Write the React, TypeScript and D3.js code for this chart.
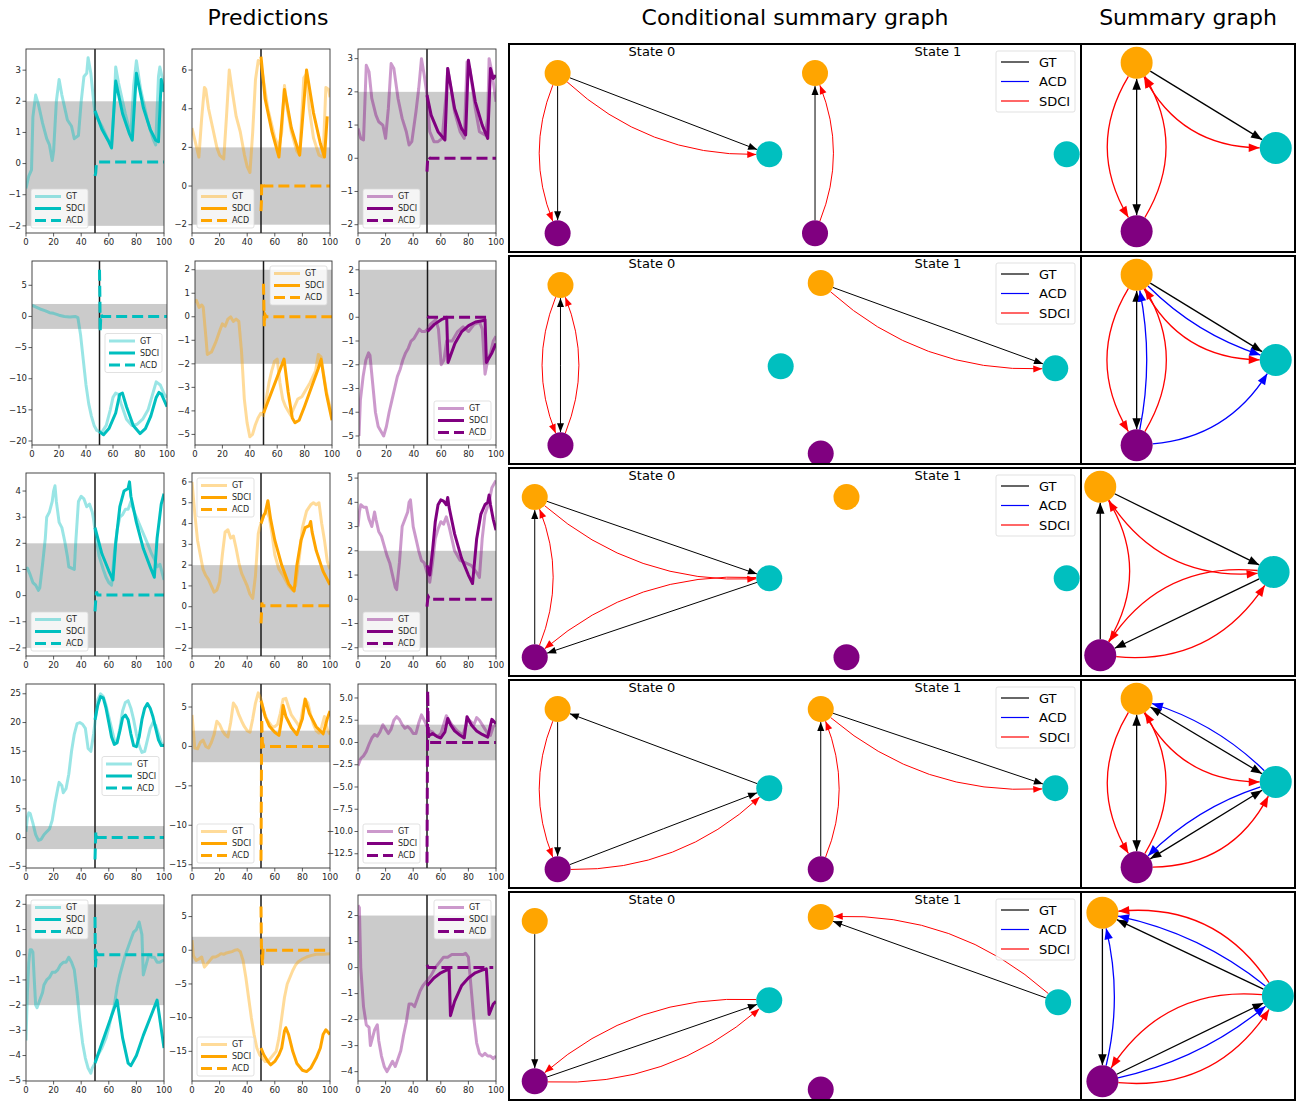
import React from 'react';
import * as d3 from 'd3';

type Pt = [number, number];
type Edge = [string, string, string, number, boolean?];

const CYAN = '#00bfbf';
const ORANGE = '#ffa500';
const PURPLE = '#800080';
const FONT = '"DejaVu Sans", Verdana, sans-serif';

// ---------- predictions: row 1 ----------
const gt11: Pt[] = [[0,-0.8],[2,-0.4],[4,-0.2],[5,1.5],[7,2.2],[9,1.9],[12,1.3],[15,0.8],[17,0.6],[19,0.1],[20,0.4],[22,2.0],[24,2.7],[26,2.2],[28,1.8],[30,1.4],[33,1.2],[35,0.8],[38,0.9],[40,2.0],[42,2.8],[44,2.9],[45,3.4],[47,2.9],[49,2.0],[50,1.6],[55,1.2],[59,0.8],[62,0.6],[64,2.0],[65,3.1],[67,2.6],[72,1.6],[76,0.9],[78,2.5],[80,3.3],[83,2.4],[88,1.4],[92,0.8],[94,0.6],[96,2.8],[97,3.1],[100,2.5]];
const sdci11: Pt[] = [[50,1.7],[55,1.1],[60,0.7],[62,0.5],[65,2.65],[70,1.6],[75,0.95],[77,0.75],[80,2.9],[85,1.8],[90,1.1],[94,0.75],[96,0.7],[98,2.7],[100,2.3]];
const acd11: Pt[] = [[50,-0.4],[50.5,-0.3],[51,0],[52,0.05],[100,0.05]];

const gt12: Pt[] = [[0,3],[2,2.4],[5,1.5],[7,3.5],[9,5.1],[10,5],[12,4],[15,3],[18,2],[20,1.6],[23,1.4],[25,3.6],[27,6],[29,5],[32,3.6],[35,2.8],[38,1.6],[40,1.0],[42,0.7],[44,2.8],[46,5.5],[48,6.5],[50,6.3],[55,4],[60,2.5],[63,2],[65,2.8],[67,5.2],[69,4],[72,2.8],[76,1.8],[78,1.6],[81,5.6],[83,5.8],[85,4],[88,2.5],[92,1.6],[95,1.5],[97,5.1],[99,5],[100,4.6]];
const sdci12: Pt[] = [[50,6.7],[53,4.5],[58,2.8],[63,1.5],[67,5],[72,3],[78,1.6],[83,6],[88,3.8],[93,2.2],[96,1.5],[98,3.6]];
const acd12: Pt[] = [[50,-1.3],[50.3,-0.8],[50.5,0.2],[52,0],[100,0]];

const gt13: Pt[] = [[0,0.9],[2,0.6],[4,0.55],[6,2.8],[8,2.6],[10,1.8],[13,1.3],[15,1.1],[18,1.0],[20,0.6],[22,1.5],[24,2.85],[26,2.7],[29,1.8],[32,1.2],[35,0.8],[37,0.4],[39,0.5],[42,1.4],[44,2.1],[46,3.0],[48,2.5],[50,1.9],[52,0.8],[55,0.5],[58,0.5],[61,0.6],[64,2.0],[65,2.7],[67,2.2],[70,1.4],[74,0.8],[77,0.6],[79,2.9],[81,2.7],[85,1.5],[88,0.8],[92,0.7],[94,1.2],[95,3.0],[97,2.6],[100,1.7]];
const sdci13: Pt[] = [[50,1.9],[53,1.3],[58,0.8],[63,0.55],[65,2.7],[70,1.5],[75,0.9],[78,0.7],[80,2.95],[85,1.7],[90,1.0],[94,0.6],[96,2.7],[98,2.4],[100,2.5]];
const acd13: Pt[] = [[50,-0.4],[50.5,0],[51,0.05],[52,0],[100,0]];

// ---------- row 2 ----------
const gt21: Pt[] = [[0,1.8],[3,1.5],[6,1.2],[10,0.9],[13,0.6],[16,0.5],[20,0.2],[24,0],[28,-0.1],[32,0],[34,-0.2],[36,-3],[38,-7],[40,-11],[42,-14],[44,-16],[46,-17.5],[48,-18.3],[50,-18.5],[52,-18.5],[55,-17.5],[58,-15],[60,-13],[62,-12.3],[64,-12.5],[66,-14],[70,-16.5],[74,-17.5],[78,-17.3],[82,-16.5],[86,-15],[90,-12],[92,-10.5],[95,-11],[98,-12.5],[100,-13]];
const sdci21: Pt[] = [[50,-18.5],[53,-19],[57,-18],[62,-15.5],[65,-12.5],[67,-12.3],[70,-14.5],[75,-17.5],[80,-18.8],[84,-18],[88,-16],[92,-13],[94,-12.2],[96,-12.5],[100,-14.5]];
const acd21: Pt[] = [[50,7.5],[50.3,3],[50.5,-2.5],[51,0.3],[52,0],[100,0]];

const gt22: Pt[] = [[0,0.6],[1,0.7],[3,0.4],[5,0.5],[6,0.4],[8,-0.9],[9,-1.6],[12,-1.5],[15,-1.1],[18,-0.6],[20,-0.3],[22,-0.4],[24,-0.1],[26,0],[28,-0.2],[30,-0.1],[32,-0.2],[34,-1.5],[36,-3.5],[38,-4.5],[40,-5.1],[42,-5.0],[44,-4.6],[46,-4.3],[48,-4.1],[50,-4.2],[52,-3.5],[54,-2.8],[56,-2.3],[58,-1.9],[60,-1.8],[62,-2.8],[64,-3.5],[66,-3.8],[68,-4.0],[70,-4.2],[72,-3.9],[75,-3.5],[78,-3.4],[80,-3.2],[84,-2.8],[88,-2.3],[90,-1.6],[92,-1.7],[94,-2.5],[96,-3.2],[100,-4.2]];
const sdci22: Pt[] = [[50,-4.1],[65,-1.8],[68,-3.2],[71,-4.3],[73,-4.5],[76,-4.4],[80,-3.8],[85,-3],[90,-2.2],[92,-1.8],[96,-3.3],[100,-4.4]];
const acd22: Pt[] = [[50,1.4],[50.3,0.5],[50.6,-0.4],[51,0.1],[52,0],[100,0]];

const gt23: Pt[] = [[0,-5],[1,-3.5],[3,-2.5],[5,-1.8],[7,-1.5],[8,-1.6],[10,-2.8],[12,-4],[14,-4.6],[16,-4.8],[18,-5.0],[20,-4.6],[22,-4.0],[24,-3.5],[26,-3],[28,-2.5],[30,-2.2],[32,-1.8],[34,-1.5],[36,-1.3],[38,-1.0],[40,-0.9],[42,-0.7],[44,-0.5],[46,-0.6],[48,-0.6],[50,-0.5],[52,-0.3],[54,-0.2],[56,-0.1],[58,-0.5],[60,-2.0],[62,-1.8],[64,-1.0],[66,-1.0],[68,-1.0],[72,-0.6],[76,-0.4],[80,-0.6],[84,-0.3],[88,-0.2],[90,-0.5],[92,-2.4],[94,-1.8],[96,-1.5],[98,-1.0],[100,-0.8]];
const sdci23: Pt[] = [[50,-0.6],[55,-0.3],[60,-0.1],[64,0],[65,-1.9],[70,-1.1],[75,-0.6],[80,-0.35],[85,-0.2],[90,-0.15],[92,-0.1],[93,-1.9],[97,-1.5],[100,-1.1]];
const acd23: Pt[] = [[50,0.05],[51,0],[95,0]];

// ---------- row 3 ----------
const gt31: Pt[] = [[0,1],[1,1.05],[3,0.8],[5,0.5],[7,0.4],[9,0.2],[10,0.3],[12,1.2],[14,2.2],[15,3],[17,3.2],[19,3.6],[20,4.0],[21,4.2],[22,3.6],[24,2.8],[26,2.6],[28,2.1],[30,1.5],[31,1.1],[33,1.05],[35,1.0],[36,2.0],[38,3.6],[40,3.8],[42,3.7],[44,3.4],[46,3.5],[48,3.2],[49,2.9],[50,2.5],[53,1.5],[56,1.0],[58,0.7],[60,0.5],[62,0.4],[64,1.6],[66,2.5],[68,3.0],[70,3.1],[72,3.3],[74,3.3],[76,3.6],[77,3.4],[80,3.0],[84,2.5],[88,2.0],[91,1.6],[93,1.4],[95,1.1],[97,1.2],[99,0.8],[100,0.6]];
const sdci31: Pt[] = [[50,2.6],[55,1.6],[60,0.95],[63,0.6],[65,2.0],[68,3.4],[71,4.0],[74,4.1],[75,4.35],[76,3.8],[80,2.8],[85,1.8],[90,1.1],[93,0.7],[95,2.2],[98,3.5],[100,3.9]];
const acd31: Pt[] = [[50,-0.6],[50.5,-0.2],[51,0.15],[52,0.02],[100,0.02]];

const gt32: Pt[] = [[0,6],[2,4.5],[4,3.2],[6,2.5],[8,1.8],[10,1.5],[12,1.3],[14,1.0],[16,0.7],[18,0.8],[20,1.2],[22,2.5],[24,3.6],[26,3.7],[28,3.3],[30,3.4],[32,2.8],[34,2.1],[36,1.6],[38,1.3],[40,1.0],[42,0.6],[44,0.4],[46,1.5],[48,3.5],[49,3.8],[50,4],[52,4.4],[54,4.6],[56,4.3],[58,3.5],[60,2.5],[63,1.8],[66,1.5],[70,1.0],[73,0.8],[75,1.0],[78,2.5],[80,3.8],[83,4.6],[86,4.9],[88,5.0],[90,4.9],[92,5.0],[94,4.0],[96,3.2],[98,2.2],[100,1.8]];
const sdci32: Pt[] = [[50,4.0],[52,4.4],[53,4.5],[55,5.1],[57,4.2],[60,3.2],[65,2.0],[70,1.1],[74,0.75],[76,2.0],[79,3.2],[82,3.8],[85,3.9],[86,4.1],[87,3.6],[90,2.7],[95,1.7],[100,1.05]];
const acd32: Pt[] = [[50,-0.8],[50.3,-0.4],[50.6,0.2],[51,0.05],[100,0.05]];

const gt33: Pt[] = [[0,3.0],[1,3.6],[2,3.9],[4,3.8],[6,3.8],[8,3.3],[10,3.0],[12,3.6],[13,3.3],[15,2.8],[17,2.6],[19,2.2],[21,1.8],[23,1.5],[25,1.0],[27,0.5],[28,0.4],[30,1.5],[32,3.0],[34,3.3],[36,3.6],[37,4.0],[38,4.1],[40,3.0],[42,2.5],[44,2.0],[46,1.6],[48,1.5],[50,1.1],[52,0.7],[54,1.5],[56,2.5],[58,2.9],[60,3.2],[62,3.1],[64,3.4],[66,3.0],[68,2.5],[70,2.0],[74,1.6],[78,1.5],[82,1.4],[86,1.1],[88,0.9],[90,2.5],[92,3.5],[95,4.0],[97,4.6],[100,4.9]];
const sdci33: Pt[] = [[50,1.4],[52,1.0],[54,2.0],[56,3.2],[58,3.9],[60,4.1],[62,4.05],[64,3.9],[65,4.2],[66,3.8],[70,2.7],[75,1.7],[80,1.0],[83,0.65],[86,2.5],[89,3.5],[92,3.9],[94,4.0],[95,4.3],[96,3.9],[98,3.3],[100,2.85]];
const acd33: Pt[] = [[50,-0.3],[50.5,0],[51,0.1],[52,0],[100,0]];

// ---------- row 4 ----------
const gt41: Pt[] = [[0,1],[1,3.5],[2,4.3],[3,4.2],[5,2.5],[7,0.5],[9,-0.5],[11,-0.3],[13,0.5],[15,1],[17,1.5],[19,3],[21,6],[23,8.5],[24,9.6],[26,9],[27,7.8],[29,8.5],[31,11],[33,15],[35,18],[37,19.8],[39,20],[41,19.7],[43,19],[45,15.5],[47,15],[49,18],[50,20],[52,24],[54,25],[56,24.5],[58,23],[60,21],[62,19],[64,17],[66,16.5],[68,19],[70,22],[72,23.5],[74,23.8],[76,22.5],[78,20.5],[80,18],[82,16],[84,14.8],[86,15],[88,17],[90,19],[92,20],[94,19.5],[96,18],[98,16.5],[100,16]];
const sdci41: Pt[] = [[50,20.5],[52,23],[54,24.5],[56,24.3],[58,22.5],[60,20],[62,17.5],[64,16.2],[66,16.5],[68,18.5],[70,20.8],[72,21.3],[74,20.5],[76,18],[78,16],[80,15.8],[82,17.5],[84,20.5],[86,22.5],[88,23.3],[90,22.5],[92,21],[94,19],[96,17],[98,16],[100,16]];
const acd41: Pt[] = [[50,-3.8],[50.3,-1],[50.6,1],[51,0.2],[52,0],[100,0]];

const gt42: Pt[] = [[0,4],[1,2],[2,-0.2],[4,-0.3],[6,0.5],[8,0.8],[10,0],[12,-0.2],[14,0.5],[16,1.5],[18,3.2],[20,2.8],[22,2],[24,1.5],[26,1.2],[28,3],[30,5.5],[32,5],[34,4],[36,3.2],[38,2.5],[40,2],[42,1.8],[44,3.5],[46,5.5],[48,6.8],[50,6],[52,4.5],[54,3.5],[56,3],[58,2.5],[60,2.5],[62,2.8],[64,4.2],[66,6.0],[68,6.1],[70,5],[72,4],[74,3.5],[76,3],[78,2.4],[80,4.5],[82,6],[84,5.5],[86,4],[88,2.8],[90,2],[92,1.7],[94,2.5],[96,3.8],[98,2.2],[100,1.5]];
const sdci42: Pt[] = [[50,5.8],[53,3.8],[56,2.6],[60,1.8],[63,1.4],[65,3.5],[66,5.2],[68,3.8],[72,2.4],[76,1.5],[80,3.5],[82,6],[85,4.2],[90,2.5],[95,1.6],[98,3.5],[100,4.5]];
const acd42: Pt[] = [[50,-14.5],[50.5,3.5],[51,0.5],[52,0],[100,0]];

const gt43: Pt[] = [[0,-2.6],[2,-1.8],[4,-1.5],[6,-1.0],[8,-0.2],[10,0.5],[12,0.9],[14,0.7],[16,1.2],[18,2],[20,1.5],[22,1.0],[24,1.5],[26,2.5],[28,2.9],[30,2.6],[32,2.0],[34,1.6],[36,1.8],[38,1.5],[40,1.0],[42,1.0],[44,2.2],[46,3.1],[48,2.5],[50,1.8],[52,1.3],[54,1.2],[56,0.8],[58,0.7],[60,1.0],[62,2],[64,3.0],[66,2.5],[68,2.0],[72,1.3],[76,0.8],[78,1.8],[80,2.6],[84,2.0],[86,2.8],[88,2.5],[92,1.5],[94,1.0],[96,0.8],[98,1.8],[100,2.0]];
const sdci43: Pt[] = [[50,1.2],[52,0.8],[54,1.0],[57,0.7],[60,0.5],[63,1.2],[65,2.7],[67,2.0],[70,1.3],[74,0.8],[77,0.5],[79,2.9],[82,2.0],[86,1.3],[90,0.9],[94,0.6],[97,2.6],[100,2.1]];
const acd43: Pt[] = [[50,-13.5],[50.5,5.8],[51,0.5],[52,0],[100,0]];

// ---------- row 5 ----------
const gt51: Pt[] = [[0,-3.4],[1,-1.5],[2,-0.3],[3,0.2],[4,0.2],[5,0.1],[6,-1],[7,-2],[8,-2.1],[10,-1.8],[12,-1.5],[13,-1.2],[15,-1.0],[17,-0.9],[19,-0.7],[21,-0.7],[23,-0.6],[25,-0.4],[27,-0.3],[29,-0.3],[31,-0.1],[33,-0.3],[35,-0.6],[37,-1.5],[39,-2.6],[41,-3.5],[43,-4.1],[45,-4.5],[47,-4.7],[48,-4.5],[50,-4.3],[52,-4.0],[55,-3.7],[58,-3.3],[60,-2.9],[62,-2.4],[64,-2.0],[66,-1.3],[68,-0.8],[70,-0.4],[72,0],[74,0.3],[76,0.6],[78,0.9],[80,1.0],[82,1.3],[84,0.8],[85,-0.8],[87,-0.4],[89,0],[91,-0.1],[93,-0.1],[95,-0.3],[97,-0.3],[100,-0.2]];
const sdci51: Pt[] = [[50,-4.3],[66,-1.8],[70,-3.3],[74,-4.3],[76,-4.4],[80,-4],[85,-3.2],[90,-2.5],[95,-1.8],[100,-3.7]];
const acd51: Pt[] = [[50,1.5],[50.3,-0.5],[51,0.1],[52,0],[100,0]];

const gt52: Pt[] = [[0,1.5],[1,-0.8],[3,-1.5],[5,-1.3],[7,-1.0],[9,-2.5],[11,-2.0],[13,-1.5],[15,-1.0],[17,-1.0],[19,-0.8],[21,-0.5],[23,-0.6],[25,-0.4],[27,-0.3],[29,-0.2],[31,0],[33,0.1],[35,-0.2],[37,-1.5],[39,-4],[41,-7],[43,-10],[45,-12.5],[47,-14.5],[49,-15.5],[51,-16],[53,-16.5],[55,-16.5],[57,-16],[59,-15.5],[61,-15],[63,-13],[65,-10],[67,-7],[69,-5],[71,-4],[73,-3],[75,-2.2],[77,-1.7],[80,-1.3],[83,-1.0],[86,-0.8],[90,-0.6],[95,-0.6],[100,-0.5]];
const sdci52: Pt[] = [[50,-14.5],[52,-15.5],[55,-16.5],[57,-17],[60,-16.5],[63,-15.5],[65,-14.5],[67,-12.0],[68,-11.5],[70,-12.5],[73,-15],[76,-16.8],[80,-17.8],[83,-18],[86,-17.5],[90,-16],[93,-14.5],[95,-12.5],[97,-11.8],[100,-12.5]];
const acd52: Pt[] = [[50,6.5],[50.3,0.5],[51,-2.2],[51.5,0.3],[52,0],[100,0]];

const gt53: Pt[] = [[0,2.4],[1,2.3],[2,0],[4,-1.5],[6,-2.2],[8,-2.3],[9,-3.0],[10,-2.8],[12,-2.4],[14,-2.2],[15,-2.8],[17,-3.4],[19,-3.8],[21,-4.0],[23,-3.8],[25,-3.6],[27,-3.8],[29,-3.5],[31,-3.2],[33,-2.6],[35,-2.1],[37,-1.4],[39,-1.4],[41,-1.5],[43,-1.2],[45,-0.9],[47,-0.7],[50,-0.5],[53,-0.3],[56,0],[59,0.2],[62,0.4],[65,0.4],[68,0.5],[72,0.5],[76,0.5],[78,0.55],[80,0.4],[82,-0.8],[84,-2],[86,-2.9],[88,-3.3],[90,-3.4],[92,-3.3],[94,-3.4],[96,-3.4],[98,-3.5],[100,-3.4]];
const sdci53: Pt[] = [[50,-0.7],[55,-0.4],[60,-0.2],[66,-0.05],[67,-1.85],[70,-1.3],[75,-0.7],[80,-0.4],[85,-0.2],[90,-0.1],[93,-0.05],[95,-1.8],[98,-1.4],[100,-1.3]];
const acd53: Pt[] = [[50,0.1],[51,0],[98,0]];

// y limits and ticks per subplot
const yLims: Pt[][] = [
  [[-2.23, 3.68], [-2.43, 7.09], [-2.25, 3.29]],
  [[-20.64, 8.9], [-5.45, 2.37], [-5.38, 2.37]],
  [[-2.31, 4.69], [-2.37, 6.43], [-2.34, 5.21]],
  [[-5.29, 26.7], [-15.42, 7.92], [-14.1, 6.57]],
  [[-5.01, 2.37], [-19.4, 8.2], [-4.36, 2.79]],
];
const yTicks: number[][][] = [
  [[-2, -1, 0, 1, 2, 3], [-2, 0, 2, 4, 6], [-2, -1, 0, 1, 2, 3]],
  [[-20, -15, -10, -5, 0, 5], [-5, -4, -3, -2, -1, 0, 1, 2], [-5, -4, -3, -2, -1, 0, 1, 2]],
  [[-2, -1, 0, 1, 2, 3, 4], [-2, -1, 0, 1, 2, 3, 4, 5, 6], [-2, -1, 0, 1, 2, 3, 4, 5]],
  [[-5, 0, 5, 10, 15, 20, 25], [-15, -10, -5, 0, 5], [-12.5, -10, -7.5, -5, -2.5, 0, 2.5, 5]],
  [[-5, -4, -3, -2, -1, 0, 1, 2], [-15, -10, -5, 0, 5], [-4, -3, -2, -1, 0, 1, 2]],
];
const xTicks = [0, 20, 40, 60, 80, 100];
const legendSpots = [
  ['ll', 'll', 'll'],
  ['cr', 'ur', 'lr'],
  ['ll', 'ul', 'll'],
  ['cr', 'll', 'll'],
  ['ul', 'll', 'ur'],
];
const series: Pt[][][][] = [
  [[gt11, sdci11, acd11], [gt12, sdci12, acd12], [gt13, sdci13, acd13]],
  [[gt21, sdci21, acd21], [gt22, sdci22, acd22], [gt23, sdci23, acd23]],
  [[gt31, sdci31, acd31], [gt32, sdci32, acd32], [gt33, sdci33, acd33]],
  [[gt41, sdci41, acd41], [gt42, sdci42, acd42], [gt43, sdci43, acd43]],
  [[gt51, sdci51, acd51], [gt52, sdci52, acd52], [gt53, sdci53, acd53]],
];
const colColors = [CYAN, ORANGE, PURPLE];
const lineLabels = ['GT', 'SDCI', 'ACD'];

// ---------- graphs: node layouts (0-100 within each subplot) ----------
type Layout = Record<string, Pt>;
const layouts: { s0: Layout; s1: Layout; sum: Layout }[] = [
  { s0: { o: [17, 14], c: [91, 53], p: [17, 91] }, s1: { o: [7, 14], c: [95, 53], p: [7, 91] }, sum: { o: [26, 9], c: [91, 50], p: [26, 90] } },
  { s0: { o: [18, 14], c: [95, 53], p: [18, 91] }, s1: { o: [9, 13], c: [91, 54], p: [9, 95] }, sum: { o: [26, 9], c: [91, 50], p: [26, 91] } },
  { s0: { o: [9, 14], c: [91, 53], p: [9, 91] }, s1: { o: [18, 14], c: [95, 53], p: [18, 91] }, sum: { o: [9, 9], c: [90, 50], p: [9, 90] } },
  { s0: { o: [17, 14], c: [91, 52], p: [17, 91] }, s1: { o: [9, 14], c: [91, 52], p: [9, 91] }, sum: { o: [26, 9], c: [91, 49], p: [26, 90] } },
  { s0: { o: [9, 14], c: [91, 52], p: [9, 91] }, s1: { o: [9, 12], c: [92, 53], p: [9, 95] }, sum: { o: [10, 10], c: [92, 50], p: [10, 91] } },
];
// [from, to, colour, curvature, arrow at both ends]
const edgesS0: Edge[][] = [
  [['o', 'p', 'k', 0], ['o', 'c', 'k', 0], ['o', 'p', 'r', 0.2], ['o', 'c', 'r', 0.2]],
  [['o', 'p', 'k', 0, true], ['o', 'p', 'r', 0.2], ['p', 'o', 'r', 0.2]],
  [['o', 'c', 'k', 0], ['c', 'p', 'k', 0], ['p', 'o', 'k', 0], ['o', 'c', 'r', 0.2], ['c', 'p', 'r', 0.2], ['p', 'o', 'r', 0.2]],
  [['c', 'o', 'k', 0], ['p', 'c', 'k', 0], ['o', 'p', 'k', 0], ['o', 'p', 'r', 0.2], ['p', 'c', 'r', 0.2]],
  [['o', 'p', 'k', 0], ['p', 'c', 'k', 0], ['c', 'p', 'r', 0.2], ['p', 'c', 'r', 0.2]],
];
const edgesS1: Edge[][] = [
  [['p', 'o', 'k', 0], ['p', 'o', 'r', 0.2]],
  [['o', 'c', 'k', 0], ['o', 'c', 'r', 0.2]],
  [],
  [['o', 'c', 'k', 0], ['o', 'c', 'r', 0.2], ['p', 'o', 'k', 0], ['p', 'o', 'r', 0.2]],
  [['c', 'o', 'k', 0], ['c', 'o', 'r', 0.2]],
];
const edgesSum: Edge[][] = [
  [['o', 'c', 'k', 0], ['o', 'p', 'k', 0, true], ['o', 'p', 'r', 0.3], ['p', 'o', 'r', 0.3], ['o', 'c', 'r', 0.3, true]],
  [['o', 'p', 'k', 0, true], ['o', 'p', 'r', 0.3], ['p', 'o', 'r', 0.3], ['p', 'o', 'b', 0.1], ['o', 'c', 'k', 0], ['o', 'c', 'b', 0.12], ['o', 'c', 'r', 0.3], ['p', 'c', 'b', 0.25]],
  [['o', 'c', 'k', 0], ['c', 'p', 'k', 0], ['p', 'o', 'k', 0], ['o', 'c', 'r', 0.3], ['c', 'p', 'r', 0.3], ['p', 'c', 'r', 0.3], ['p', 'o', 'r', 0.3]],
  [['o', 'p', 'k', 0, true], ['o', 'p', 'r', 0.3], ['p', 'o', 'r', 0.3], ['o', 'c', 'k', 0, true], ['c', 'o', 'b', 0.12], ['o', 'c', 'r', 0.3], ['p', 'c', 'k', 0, true], ['c', 'p', 'b', 0.12], ['p', 'c', 'r', 0.3]],
  [['o', 'p', 'k', 0], ['p', 'o', 'b', 0.12], ['c', 'o', 'k', 0], ['c', 'o', 'b', 0.12], ['c', 'o', 'r', 0.3], ['p', 'c', 'k', 0], ['p', 'c', 'b', 0.12], ['p', 'c', 'r', 0.3], ['c', 'p', 'r', 0.3]],
];
const nodeColors: Record<string, string> = { o: ORANGE, c: CYAN, p: PURPLE };
const edgeColors: Record<string, string> = { k: '#000000', b: '#0000ff', r: '#ff0000' };
const graphLegend = [['GT', 'k'], ['ACD', 'b'], ['SDCI', 'r']];

// ---------- layout ----------
const rowBoxes: Pt[] = [[49, 233], [261, 445], [473, 656], [684, 868], [895, 1081]];
const colBoxes: Pt[] = [[26, 164], [192, 330], [358, 496]];
const colBoxesRow2: Pt[] = [[32, 167], [195, 332], [359, 496]];
const panelRows: Pt[] = [[44, 252], [256, 464], [468, 676], [680, 888], [892, 1100]];
const gx0 = 509, gmid = 795, gdiv = 1081, gx1 = 1295;

const LinePlot = ({ r, c }: { r: number; c: number }) => {
  const [x0, x1] = (r === 1 ? colBoxesRow2 : colBoxes)[c];
  const [y0, y1] = rowBoxes[r];
  const color = colColors[c];
  const [gt, sdci, acd] = series[r][c];
  const x = d3.scaleLinear().domain([0, 100]).range([x0, x1]);
  const y = d3.scaleLinear().domain(yLims[r][c]).range([y1, y0]);
  const ln = d3.line<Pt>().x(d => x(d[0])).y(d => y(d[1]));
  const fmt = r === 3 && c === 2 ? d3.format('.1f') : d3.format('d');
  const id = `clip-${r}-${c}`;
  const lw = 57, lh = 39;
  const spot = legendSpots[r][c];
  const lx = spot[1] === 'l' ? x0 + 5 : x1 - 5 - lw;
  const ly = spot[0] === 'u' ? y0 + 5 : spot[0] === 'l' ? y1 - 5 - lh : (y0 + y1) / 2 - lh / 2;
  return (
    <g>
      <clipPath id={id}>
        <rect x={x0} y={y0} width={x1 - x0} height={y1 - y0} />
      </clipPath>
      <g clipPath={`url(#${id})`}>
        <rect x={x(0)} y={y(2)} width={x(100) - x(0)} height={y(-2) - y(2)} fill="#cbcbcb" />
        <line x1={x(50)} x2={x(50)} y1={y0} y2={y1} stroke="#1a1a1a" strokeWidth={1.5} />
        <path d={ln(gt) ?? ''} fill="none" stroke={color} strokeOpacity={0.4} strokeWidth={3} strokeLinejoin="round" />
        <path d={ln(sdci) ?? ''} fill="none" stroke={color} strokeWidth={3} strokeLinejoin="round" />
        <path d={ln(acd) ?? ''} fill="none" stroke={color} strokeWidth={3} strokeDasharray="11,5" />
      </g>
      <rect x={x0} y={y0} width={x1 - x0} height={y1 - y0} fill="none" stroke="#333" strokeWidth={0.9} />
      {yTicks[r][c].map(t => (
        <g key={t}>
          <line x1={x0 - 3.5} x2={x0} y1={y(t)} y2={y(t)} stroke="#333" strokeWidth={0.8} />
          <text x={x0 - 5} y={y(t)} dy="0.32em" textAnchor="end" fontSize={8.5} fill="#262626" fontFamily={FONT}>
            {fmt(t)}
          </text>
        </g>
      ))}
      {xTicks.map(t => (
        <g key={t}>
          <line x1={x(t)} x2={x(t)} y1={y1} y2={y1 + 3.5} stroke="#333" strokeWidth={0.8} />
          <text x={x(t)} y={y1 + 12} textAnchor="middle" fontSize={8.5} fill="#262626" fontFamily={FONT}>
            {t}
          </text>
        </g>
      ))}
      <rect x={lx} y={ly} width={lw} height={lh} rx={2} fill="#ffffff" fillOpacity={0.8} stroke="#d9d9d9" strokeWidth={0.8} />
      {lineLabels.map((lab, i) => (
        <g key={lab}>
          <line
            x1={lx + 4}
            x2={lx + 30}
            y1={ly + 7.5 + i * 12}
            y2={ly + 7.5 + i * 12}
            stroke={color}
            strokeWidth={3}
            strokeOpacity={i === 0 ? 0.4 : 1}
            strokeDasharray={i === 2 ? '11,5' : undefined}
          />
          <text x={lx + 35} y={ly + 7.5 + i * 12} dy="0.35em" fontSize={8} fill="#262626" fontFamily={FONT}>
            {lab}
          </text>
        </g>
      ))}
    </g>
  );
};

const GraphView = ({ layout, edges, bx0, bx1, by0, by1, nr, big }: {
  layout: Layout; edges: Edge[]; bx0: number; bx1: number; by0: number; by1: number; nr: number; big: boolean;
}) => {
  const sx = d3.scaleLinear().domain([0, 100]).range([bx0, bx1]);
  const sy = d3.scaleLinear().domain([0, 100]).range([by0, by1]);
  const pos = (k: string): Pt => [sx(layout[k][0]), sy(layout[k][1])];
  const al = big ? 11 : 9, aw = big ? 8.5 : 7;
  const head = (tx: number, ty: number, ux: number, uy: number) => {
    const bxp = tx - ux * al, byp = ty - uy * al;
    return `M${tx},${ty}L${bxp - uy * aw / 2},${byp + ux * aw / 2}L${bxp + uy * aw / 2},${byp - ux * aw / 2}Z`;
  };
  return (
    <g>
      {edges.map(([a, b, col, rad, both], i) => {
        const [ax, ay] = pos(a);
        const [bx, by] = pos(b);
        const dx = bx - ax, dy = by - ay;
        const cx = (ax + bx) / 2 - rad * dy, cy = (ay + by) / 2 + rad * dx;
        const l0 = Math.hypot(cx - ax, cy - ay), l1 = Math.hypot(cx - bx, cy - by);
        const s0x = ax + ((cx - ax) / l0) * nr, s0y = ay + ((cy - ay) / l0) * nr;
        const e0x = bx + ((cx - bx) / l1) * nr, e0y = by + ((cy - by) / l1) * nr;
        const p = d3.path();
        p.moveTo(s0x, s0y);
        p.quadraticCurveTo(cx, cy, e0x, e0y);
        const stroke = edgeColors[col];
        return (
          <g key={i}>
            <path d={p.toString()} fill="none" stroke={stroke} strokeWidth={big ? 1.3 : 1} />
            <path d={head(e0x, e0y, (bx - cx) / l1, (by - cy) / l1)} fill={stroke} />
            {both && <path d={head(s0x, s0y, (ax - cx) / l0, (ay - cy) / l0)} fill={stroke} />}
          </g>
        );
      })}
      {Object.keys(layout).map(k => {
        const [px, py] = pos(k);
        return <circle key={k} cx={px} cy={py} r={nr} fill={nodeColors[k]} />;
      })}
    </g>
  );
};

const GraphRow = ({ r }: { r: number }) => {
  const [t, b] = panelRows[r];
  const L = layouts[r];
  const lgx = gdiv - 85, lgy = t + 7;
  return (
    <g>
      <clipPath id={`gc-${r}`}>
        <rect x={gx0} y={t} width={gdiv - gx0} height={b - t} />
      </clipPath>
      <clipPath id={`gs-${r}`}>
        <rect x={gdiv} y={t} width={gx1 - gdiv} height={b - t} />
      </clipPath>
      <g clipPath={`url(#gc-${r})`}>
        <GraphView layout={L.s0} edges={edgesS0[r]} bx0={gx0} bx1={gmid} by0={t} by1={b} nr={13} big={false} />
        <GraphView layout={L.s1} edges={edgesS1[r]} bx0={gmid} bx1={gdiv} by0={t} by1={b} nr={13} big={false} />
      </g>
      <g clipPath={`url(#gs-${r})`}>
        <GraphView layout={L.sum} edges={edgesSum[r]} bx0={gdiv} bx1={gx1} by0={t} by1={b} nr={16} big={true} />
      </g>
      <text x={(gx0 + gmid) / 2} y={t + 12} textAnchor="middle" fontSize={13} fontFamily={FONT}>State 0</text>
      <text x={(gmid + gdiv) / 2} y={t + 12} textAnchor="middle" fontSize={13} fontFamily={FONT}>State 1</text>
      <rect x={lgx} y={lgy} width={79} height={61} rx={2} fill="#fff" fillOpacity={0.8} stroke="#d9d9d9" strokeWidth={0.8} />
      {graphLegend.map(([lab, col], i) => (
        <g key={lab}>
          <line x1={lgx + 5} x2={lgx + 33} y1={lgy + 11 + i * 19.5} y2={lgy + 11 + i * 19.5} stroke={edgeColors[col]} strokeWidth={1.2} />
          <text x={lgx + 43} y={lgy + 11 + i * 19.5} dy="0.35em" fontSize={13} fontFamily={FONT}>{lab}</text>
        </g>
      ))}
      <rect x={gx0} y={t} width={gx1 - gx0} height={b - t} fill="none" stroke="#000" strokeWidth={2} />
      <line x1={gdiv} x2={gdiv} y1={t} y2={b} stroke="#000" strokeWidth={2} />
    </g>
  );
};

export default function App() {
  return (
    <div style={{ position: 'absolute', left: 0, top: 0 }}>
      <svg width={1300} height={1101} style={{ display: 'block', background: '#fff' }}>
        <text x={268} y={25} textAnchor="middle" fontSize={22} fontFamily={FONT}>Predictions</text>
        <text x={795} y={25} textAnchor="middle" fontSize={22} fontFamily={FONT}>Conditional summary graph</text>
        <text x={1188} y={25} textAnchor="middle" fontSize={22} fontFamily={FONT}>Summary graph</text>
        {[0, 1, 2, 3, 4].map(r => (
          <g key={r}>
            {[0, 1, 2].map(c => <LinePlot key={c} r={r} c={c} />)}
            <GraphRow r={r} />
          </g>
        ))}
      </svg>
    </div>
  );
}
